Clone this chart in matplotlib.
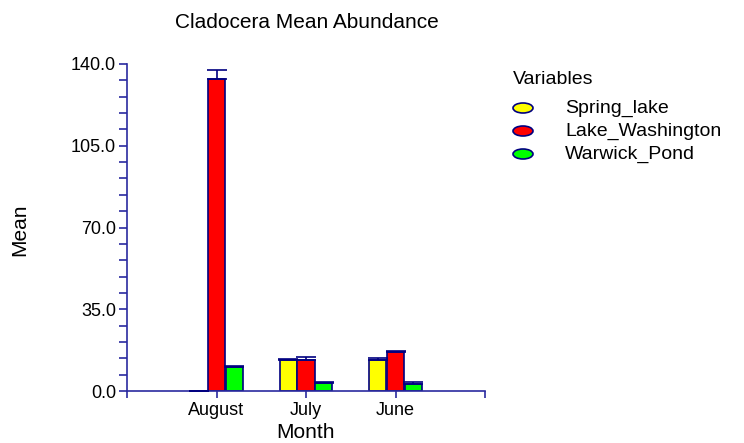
import numpy as np
import matplotlib
matplotlib.use('Agg')
import matplotlib.pyplot as plt
from matplotlib.patches import Ellipse

plt.rcParams['font.family'] = ['Liberation Sans', 'DejaVu Sans']

# 数据
months = ['August', 'July', 'June']
series = ['Spring_lake', 'Lake_Washington', 'Warwick_Pond']
spring_lake = [0.0, 13.1, 13.3]
lake_washington = [133.4, 13.4, 16.7]
warwick_pond = [10.1, 3.3, 3.1]
spring_err = [0.0, 0.7, 1.0]
washington_err = [4.0, 1.0, 0.6]
warwick_err = [0.5, 0.4, 0.6]

values = [spring_lake, lake_washington, warwick_pond]
errors = [spring_err, washington_err, warwick_err]
colors = ['#ffff00', '#ff0000', '#00ff00']
edge = '#000080'
axis_color = '#2a2aa0'

fig = plt.figure(figsize=(7.44, 4.43), dpi=100)
ax = fig.add_axes([127 / 744, 1 - 391 / 443, 358 / 744, 327 / 443])

x = np.arange(1, len(months) + 1)
width = 0.19
offsets = [-0.2, 0.0, 0.2]
for vals, errs, c, off in zip(values, errors, colors, offsets):
    ax.bar(x + off, vals, width, color=c, edgecolor=edge, linewidth=1.2, zorder=2)
    ax.errorbar(x + off, vals, yerr=[np.zeros(len(errs)), errs], fmt='none',
                ecolor=edge, elinewidth=1.2, capsize=7.5, capthick=1.2, zorder=3)

ax.set_xlim(0, 4)
ax.set_ylim(0, 140)
ax.set_xticks([0, 1, 2, 3, 4])
ax.set_xticklabels([''] + months + [''], fontsize=13)
ax.set_yticks(np.arange(0, 141, 35))
ax.set_yticks(np.arange(0, 141, 7), minor=True)
ax.set_yticklabels([f'{v:.1f}' for v in np.arange(0, 141, 35)], fontsize=13)

for s in ['top', 'right']:
    ax.spines[s].set_visible(False)
for s in ['left', 'bottom']:
    ax.spines[s].set_color(axis_color)
    ax.spines[s].set_linewidth(1.2)
ax.tick_params(axis='y', which='both', direction='out', length=6, color=axis_color, width=1.2, pad=2)
ax.tick_params(axis='x', direction='out', length=5, color=axis_color, width=1.2, pad=3)

fig.text(306 / 744, 1 - 433 / 443, 'Month', fontsize=15, ha='center', va='center')
fig.text(20 / 744, 1 - 230 / 443, 'Mean', fontsize=15, rotation=90, ha='center', va='center')
fig.text(307 / 744, 1 - 23 / 443, 'Cladocera Mean Abundance', fontsize=15, ha='center', va='center')

# 图例
fig.text(513 / 744, 1 - 80 / 443, 'Variables', fontsize=14, ha='left', va='center')
leg_y = [108, 131, 154]
for name, c, yy in zip(series, colors, leg_y):
    fig.patches.append(Ellipse((523 / 744, 1 - yy / 443), 20 / 744, 10 / 443,
                               transform=fig.transFigure, facecolor=c, edgecolor=edge, linewidth=1.2))
    fig.text(565 / 744, 1 - yy / 443, name, fontsize=14, ha='left', va='center')

fig.savefig('out.png', dpi=100)
